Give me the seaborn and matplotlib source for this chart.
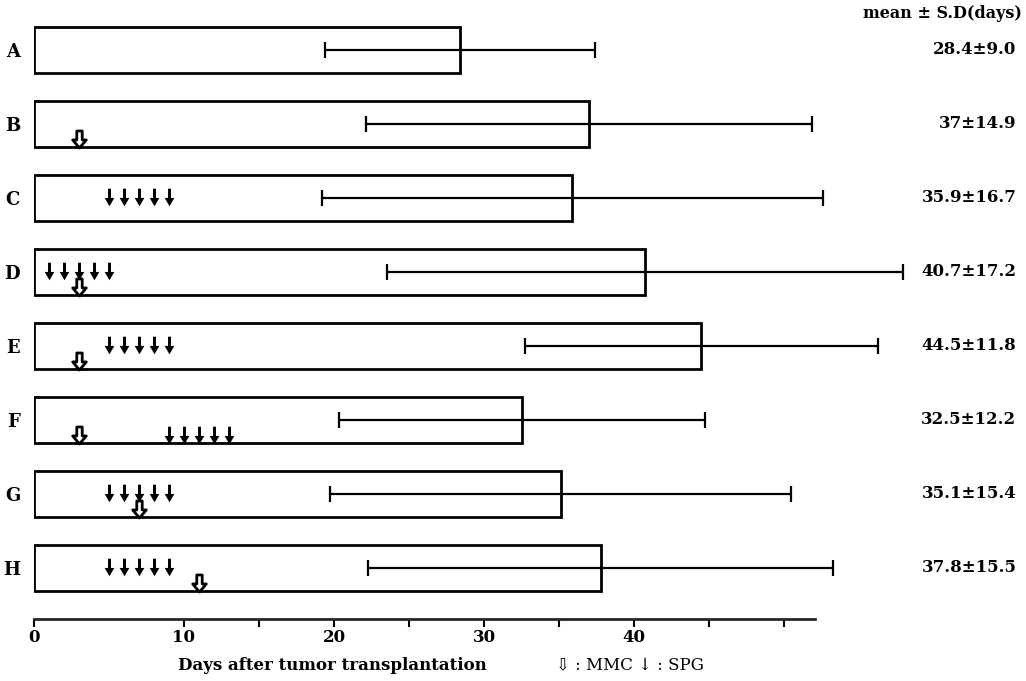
import seaborn as sns
import matplotlib.pyplot as plt
from matplotlib.path import Path

sns.set_style('ticks')
plt.rcParams['font.family'] = ['DejaVu Serif', 'DejaVu Sans']
plt.rcParams['font.weight'] = 'bold'
plt.rcParams['text.color'] = 'black'
plt.rcParams['xtick.color'] = 'black'
plt.rcParams['ytick.color'] = 'black'

# survival per group (mean, SD in days)
groups = ['A', 'B', 'C', 'D', 'E', 'F', 'G', 'H']
means = [28.4, 37, 35.9, 40.7, 44.5, 32.5, 35.1, 37.8]
sds = [9.0, 14.9, 16.7, 17.2, 11.8, 12.2, 15.4, 15.5]
value_labels = ['28.4±9.0', '37±14.9', '35.9±16.7', '40.7±17.2',
                '44.5±11.8', '32.5±12.2', '35.1±15.4', '37.8±15.5']

# MMC dosing (hollow arrow)
mmc_group = ['B', 'D', 'E', 'F', 'G', 'H']
mmc_day = [3, 3, 3, 3, 7, 11]

# SPG dosing (solid arrow)
spg_group = ['C'] * 5 + ['D'] * 5 + ['E'] * 5 + ['F'] * 5 + ['G'] * 5 + ['H'] * 5
spg_day = [5, 6, 7, 8, 9,
           1, 2, 3, 4, 5,
           5, 6, 7, 8, 9,
           9, 10, 11, 12, 13,
           5, 6, 7, 8, 9,
           5, 6, 7, 8, 9]

xticks = [0, 10, 15, 20, 25, 30, 35, 40, 45, 50]
xticklabels = ['0', '10', '', '20', '', '30', '', '40', '', '']

# arrow markers
solid_arrow = Path([(-0.17, 1), (0.17, 1), (0.17, -0.05), (0.55, -0.05), (0, -1),
                    (-0.55, -0.05), (-0.17, -0.05), (-0.17, 1)], closed=True)
hollow_arrow = Path([(-0.32, 1), (0.32, 1), (0.32, -0.05), (0.8, -0.05), (0, -1),
                     (-0.8, -0.05), (-0.32, -0.05), (-0.32, 1)], closed=True)

fig = plt.figure(figsize=(10.26, 6.81), dpi=100)
ax = fig.add_axes([34 / 1026, 1 - 619 / 681, 992 / 1026, 619 / 681])

sns.barplot(x=means, y=groups, orient='h', color='white', saturation=1,
            edgecolor='black', linewidth=2, width=0.62, ax=ax)
ax.errorbar(means, range(len(groups)), xerr=sds, fmt='none', ecolor='black',
            elinewidth=1.6, capsize=6, capthick=1.6, zorder=3)

# SPG arrows sit mid-bar except group F where they sit low
spg_y = [groups.index(g) + (0.2 if g == 'F' else -0.02) for g in spg_group]
ax.scatter(spg_day, spg_y, marker=solid_arrow, s=160, color='black',
           linewidths=0, zorder=4)
mmc_y = [groups.index(g) + 0.2 for g in mmc_group]
ax.scatter(mmc_day, mmc_y, marker=hollow_arrow, s=150, facecolor='white',
           edgecolor='black', linewidths=2, zorder=5)

for i, lab in enumerate(value_labels):
    ax.text(65.5, i, lab, ha='right', va='center', fontsize=12, fontweight='bold')

ax.set_xlim(0, 992 / 15)
ax.set_ylim((619 - 50) / 74, -50 / 74)
ax.set_xticks(xticks)
ax.set_xticklabels(xticklabels, fontsize=12, fontweight='bold')
ax.tick_params(axis='x', direction='out', length=6, width=1.5, pad=1)
ax.tick_params(axis='y', length=0, pad=10, labelsize=13)
for t in ax.get_yticklabels():
    t.set_fontweight('bold')
ax.set_xlabel('')
ax.set_ylabel('')

sns.despine(ax=ax, left=True)
ax.spines['bottom'].set_linewidth(2)
ax.spines['bottom'].set_bounds(0, 52.1)

fig.text(332 / 1026, 1 - 665 / 681, 'Days after tumor transplantation',
         ha='center', va='center', fontsize=12, fontweight='bold')
fig.text(556 / 1026, 1 - 665 / 681, '⇩ : MMC ↓ : SPG', ha='left', va='center',
         fontsize=12, fontweight='normal')
fig.text(1022 / 1026, 1 - 14 / 681, 'mean ± S.D(days)', ha='right', va='center',
         fontsize=11.5, fontweight='bold')

fig.savefig('out.png', dpi=100)
